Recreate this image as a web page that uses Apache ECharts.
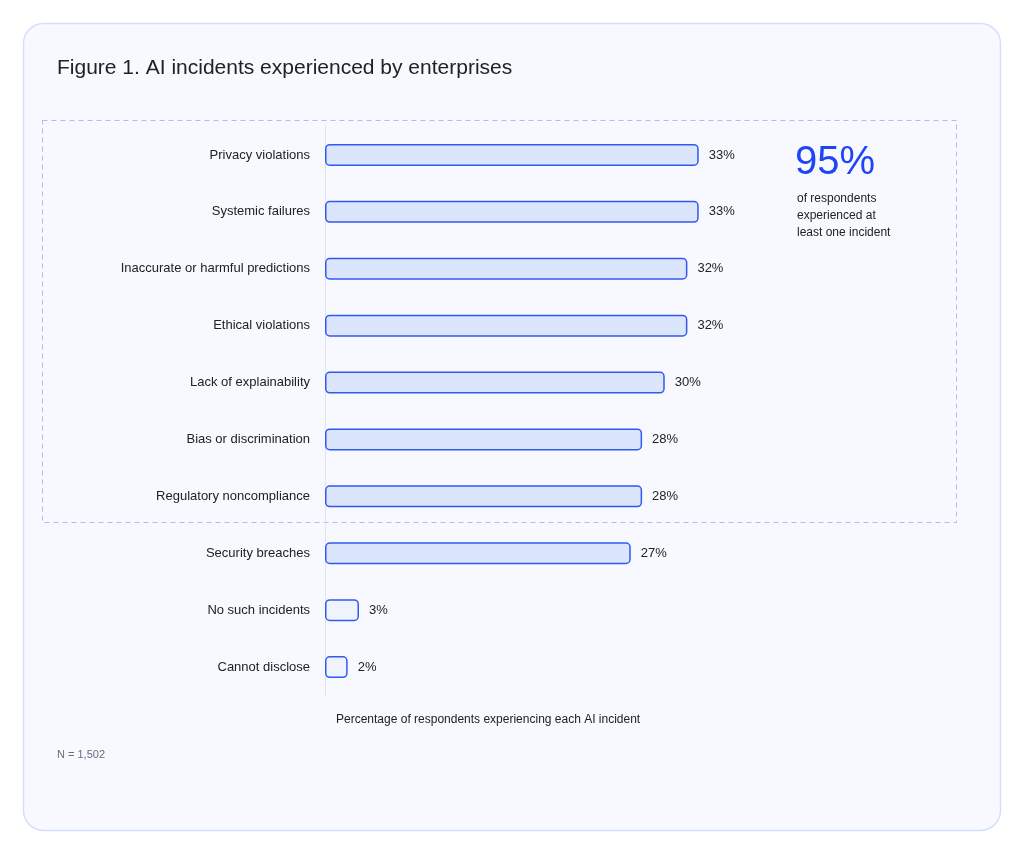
<!DOCTYPE html>
<html><head><meta charset="utf-8">
<script src="https://cdn.jsdelivr.net/npm/echarts@6/dist/echarts.min.js"></script>
<style>html,body{margin:0;padding:0;background:#fff}#c{width:1024px;height:853px}</style>
</head><body><div id="c"></div>
<script>
// data
var categories = ['Privacy violations','Systemic failures','Inaccurate or harmful predictions','Ethical violations','Lack of explainability','Bias or discrimination','Regulatory noncompliance','Security breaches','No such incidents','Cannot disclose'];
var values = [33, 33, 32, 32, 30, 28, 28, 27, 3, 2];
var lightRows = ['No such incidents','Cannot disclose'];

var myChart = echarts.init(document.getElementById('c'));
var font = '"Liberation Sans", Arial, sans-serif';
var option = {
    textStyle: { fontFamily: font },
    graphic: [
        { type: 'rect', z: -10, shape: { x: 23.5, y: 23.5, width: 977, height: 807, r: 20 },
          style: { fill: '#f7f9fe', stroke: '#d3e0f8', lineWidth: 1.5 } },
        { type: 'rect', z: -9, shape: { x: 42.5, y: 120.5, width: 914, height: 402 },
          style: { fill: 'none', stroke: '#a9bff0', lineWidth: 1, lineDash: [5, 4] } },
        { type: 'text', left: 57, top: 58, style: { text: 'Figure 1. AI incidents experienced by enterprises', fontSize: 21, fill: '#222', fontFamily: font } },
        { type: 'text', left: 795, top: 143, style: { text: '95%', fontSize: 40, fill: '#1f45f5', fontFamily: font } },
        { type: 'text', left: 797, top: 190, style: { text: 'of respondents\nexperienced at\nleast one incident', fontSize: 12, lineHeight: 17, fill: '#222', fontFamily: font } },
        { type: 'text', left: 336, top: 714, style: { text: 'Percentage of respondents experiencing each AI incident', fontSize: 12, fill: '#222', fontFamily: font } },
        { type: 'text', left: 57, top: 749, style: { text: 'N = 1,502', fontSize: 11, fill: '#666c80', fontFamily: font } }
    ],
    grid: { left: 325, top: 126.5, height: 569, width: 453 },
    xAxis: {
        type: 'value', min: 0, max: 40, show: true,
        axisLine: { show: false }, axisTick: { show: false }, axisLabel: { show: false }, splitLine: { show: false }
    },
    yAxis: {
        type: 'category', inverse: true, data: categories,
        axisLine: { show: true, lineStyle: { color: '#dbe5fa', width: 1 } },
        axisTick: { show: false },
        axisLabel: { fontSize: 13, color: '#222', margin: 15 }
    },
    series: [{
        type: 'bar', barWidth: 22,
        data: values.map(function (v, i) {
            return { value: v, itemStyle: { color: lightRows.indexOf(categories[i]) >= 0 ? '#eff3fd' : '#dbe5fb' } };
        }),
        itemStyle: { borderColor: '#3358f2', borderWidth: 1.5, borderRadius: 4 },
        label: { show: true, position: 'right', distance: 10, formatter: '{c}%', fontSize: 13, color: '#222' }
    }]
};
myChart.setOption(option, true);
</script></body></html>
